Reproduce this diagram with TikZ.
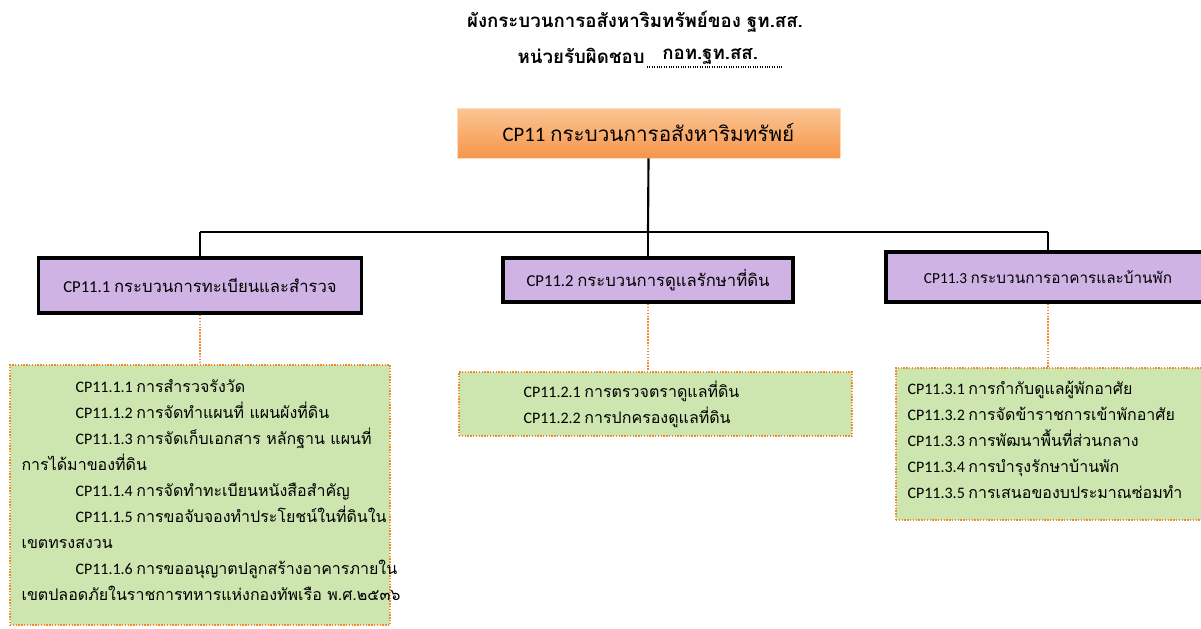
\documentclass[tikz,border=0pt]{standalone}
\usepackage{fontspec}
\setmainfont{Carlito}
\newfontfamily\thaifont[Script=Thai]{Loma}
\newcommand\tha[1]{{\thaifont #1}}
\definecolor{orTop}{HTML}{FBC594}
\definecolor{orBot}{HTML}{F6954A}
\definecolor{purp}{HTML}{CFB3E4}
\definecolor{grn}{HTML}{CDE6B0}
\definecolor{dotor}{HTML}{F08A2E}
\tikzset{
  mainbox/.style={draw=orTop!60!white, line width=0.5pt, top color=orTop, bottom color=orBot, inner sep=0pt, font=\fontsize{15.5pt}{18pt}\selectfont},
  subbox/.style={draw=black, line width=2.7pt, fill=purp, inner sep=0pt, font=\fontsize{12.5pt}{15pt}\selectfont},
  greenbox/.style={draw=dotor, line width=1.1pt, densely dotted, fill=grn, inner sep=0pt},
  bodytext/.style={anchor=west, align=left, inner sep=0pt, font=\fontsize{12pt}{19.5pt}\selectfont},
  bus/.style={draw=black, line width=1.6pt},
  dotlink/.style={draw=dotor, line width=1.2pt, densely dotted},
  titletext/.style={inner sep=0pt, font=\fontsize{14pt}{17pt}\selectfont\bfseries}
}
\begin{document}
\begin{tikzpicture}[x=0.75pt,y=-0.75pt]
\useasboundingbox[fill=white] (0,0) rectangle (1201,628);
% title
\node[titletext] (t1) at (635,22) {\tha{ผังกระบวนการอสังหาริมทรัพย์ของ ฐท.สส.}};
\node[titletext, anchor=east] (t2a) at (645,56) {\tha{หน่วยรับผิดชอบ}};
\node[titletext, anchor=west] (t2b) at (662,56) {\tha{กอท.ฐท.สส.}};
\coordinate (ul1) at (647,67);
\coordinate (ul2) at (783,67);
\draw[densely dotted, line width=0.8pt] (ul1) -- (ul2);
% top box
\node[mainbox, minimum width=287.25pt, minimum height=37.5pt] (top) at (648.5,133) {CP11 \tha{กระบวนการอสังหาริมทรัพย์}};
% sub boxes
\node[subbox, minimum width=242.25pt, minimum height=41.25pt] (b1) at (200,285.5) {CP11.1 \tha{กระบวนการทะเบียนและสำรวจ}};
\node[subbox, minimum width=217.5pt, minimum height=33pt] (b2) at (648,280) {CP11.2 \tha{กระบวนการดูแลรักษาที่ดิน}};
\node[subbox, minimum width=243pt, minimum height=37.5pt, font=\fontsize{11.5pt}{14pt}\selectfont] (b3) at (1048,277) {CP11.3 \tha{กระบวนการอาคารและบ้านพัก}};
% bus
\coordinate (j) at (648,232);
\draw[bus] (top.south) -- (j);
\draw[bus] (j -| b1.north) -- (j -| b3.north);
\draw[bus] (j -| b1.north) -- (b1.north);
\draw[bus] (j) -- (b2.north);
\draw[bus] (j -| b3.north) -- (b3.north);
% green boxes
\node[greenbox, minimum width=285pt, minimum height=195pt] (g1) at (200,495) {};
\node[greenbox, minimum width=294.75pt, minimum height=48pt] (g2) at (655.5,404) {};
\node[greenbox, minimum width=239.25pt, minimum height=114pt] (g3) at (1055.5,444) {};
\draw[dotlink] (b1.south) -- (b1.south |- g1.north);
\draw[dotlink] (b2.south) -- (b2.south |- g2.north);
\draw[dotlink] (b3.south) -- (b3.south |- g3.north);
% texts
\node[bodytext, xshift=9pt, yshift=4pt] (g1t) at (g1.west) {%
\hspace*{40.5pt}CP11.1.1 \tha{การสำรวจรังวัด}\\
\hspace*{40.5pt}CP11.1.2 \tha{การจัดทำแผนที่ แผนผังที่ดิน}\\
\hspace*{40.5pt}CP11.1.3 \tha{การจัดเก็บเอกสาร หลักฐาน แผนที่}\\
\tha{การได้มาของที่ดิน}\\
\hspace*{40.5pt}CP11.1.4 \tha{การจัดทำทะเบียนหนังสือสำคัญ}\\
\hspace*{40.5pt}CP11.1.5 \tha{การขอจับจองทำประโยชน์ในที่ดินใน}\\
\tha{เขตทรงสงวน}\\
\hspace*{40.5pt}CP11.1.6 \tha{การขออนุญาตปลูกสร้างอาคารภายใน}\\
\tha{เขตปลอดภัยในราชการทหารแห่งกองทัพเรือ พ.ศ.๒๕๓๖}};
\node[bodytext, xshift=48.75pt] (g2t) at (g2.west) {%
CP11.2.1 \tha{การตรวจตราดูแลที่ดิน}\\
CP11.2.2 \tha{การปกครองดูแลที่ดิน}};
\node[bodytext, xshift=9pt, yshift=3pt] (g3t) at (g3.west) {%
CP11.3.1 \tha{การกำกับดูแลผู้พักอาศัย}\\
CP11.3.2 \tha{การจัดข้าราชการเข้าพักอาศัย}\\
CP11.3.3 \tha{การพัฒนาพื้นที่ส่วนกลาง}\\
CP11.3.4 \tha{การบำรุงรักษาบ้านพัก}\\
CP11.3.5 \tha{การเสนอของบประมาณซ่อมทำ}};
\end{tikzpicture}
\end{document}
